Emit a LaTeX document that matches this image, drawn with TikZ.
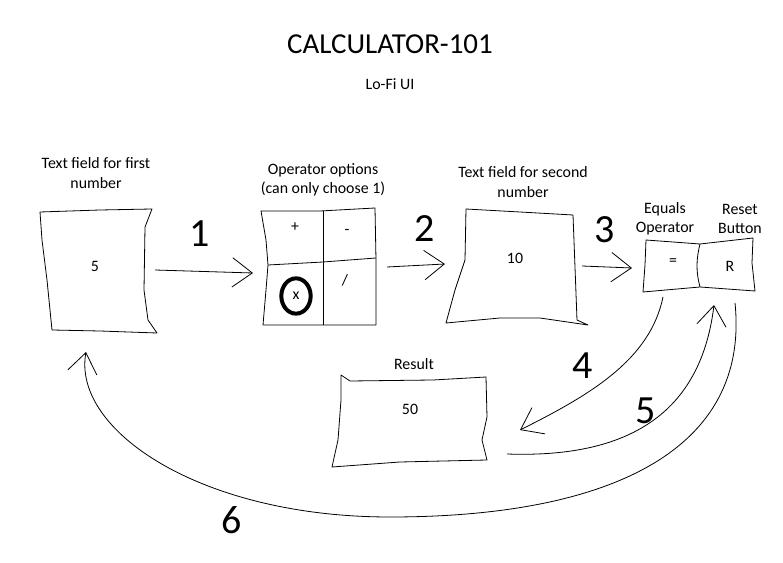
\documentclass[tikz,border=0pt]{standalone}
\usepackage{fontspec}
\setmainfont{Carlito}
\usetikzlibrary{arrows.meta,shapes.geometric}
\tikzset{sketch/.style={draw,line width=0.6pt,line join=round}}
\tikzset{caption/.style={align=center,inner sep=0pt,
                         font=\fontsize{11.9}{14.6}\selectfont}}
\tikzset{entry/.style={inner sep=0pt,font=\fontsize{11.9}{13}\selectfont}}
\tikzset{stepnum/.style={inner sep=0pt,font=\fontsize{30}{30}\selectfont}}
\tikzset{flow/.style={sketch,-{Straight Barb[length=15pt,width=22pt]}}}

\begin{document}
\begin{tikzpicture}[x=0.75pt,y=-0.75pt]
    \useasboundingbox (0,0) rectangle (783,563);
    % Title
    \node[inner sep=0pt,font=\fontsize{21.7}{24}\selectfont] (title) at (390,44) {CALCULATOR-101};
    \node[entry] (subtitle) at (390,84) {Lo-Fi UI};
    % Captions over the boxes
    \node[caption] (capfirst) at (96,173) {Text field for first\\number};
    \node[caption] (capops) at (323,180) {Operator options\\(can only choose 1)};
    \node[caption] (capsecond) at (523,182) {Text field for second\\number};
    \node[caption] (capequals) at (665,219) {Equals\\Operator};
    \node[caption] (capreset) at (740,219) {Reset\\Button};
    \node[caption] (capresult) at (414,364) {Result};
    % Hand drawn boxes
    \draw[sketch] (40,212) -- (100,210) -- (152,209) -- (145,227) -- (144,290)
                  -- (148,320) -- (157,333) -- (100,331) -- (52,330) -- (47,280)
                  -- (42,240) -- cycle;
    \draw[sketch] (261,211) -- (320,211) -- (375,208) -- (376,260) -- (376,325)
                  -- (320,325) -- (263,325) -- (266,290) -- (268,265) -- (266,240) -- cycle;
    \draw[sketch] (323,211) -- (323,325);
    \draw[sketch] (268,265) -- (323,262) -- (376,258);
    \draw[sketch] (466,209) -- (520,212) -- (573,215) -- (575,267) -- (577,320)
                  -- (588,325) -- (540,318) -- (500,318) -- (446,323) -- (455,290)
                  -- (465,260) -- cycle;
    \draw[sketch] (646,240) -- (700,244) -- (753,238) -- (752,263) -- (755,291)
                  -- (700,287) -- (643,292) -- (645,265) -- cycle;
    \draw[sketch] (700,244) .. controls (696,260) and (696,272) .. (700,287);
    \draw[sketch] (341,375) -- (350,381) -- (433,380) -- (486,377) -- (487,417)
                  -- (482,440) -- (487,460) -- (400,462) -- (332,467) -- (338,440)
                  -- (341,400) -- cycle;
    % Values in the boxes
    \node[entry] (first) at (95,266) {5};
    \node[entry] (plus) at (295,227) {+};
    \node[entry] (minus) at (347,232) {-};
    \node[entry] (divide) at (345,280) {/};
    \node[entry,draw,ellipse,line width=3pt,minimum width=22pt,
          minimum height=26.5pt] (times) at (296,296) {x};
    \node[entry] (second) at (515,258) {10};
    \node[entry] (equals) at (673,262) {=};
    \node[entry] (reset) at (730,266) {R};
    \node[entry] (result) at (410,409) {50};
    % Ends of the connectors
    \coordinate (firstout) at (155,270);
    \coordinate (opsin) at (253,273);
    \coordinate (opsout) at (387,267);
    \coordinate (secondin) at (445,264);
    \coordinate (secondout) at (582,266);
    \coordinate (eqin) at (632,268);
    \coordinate (eqout) at (663,297);
    \coordinate (resultin) at (520,430);
    \coordinate (resultout) at (507,454);
    \coordinate (resetin) at (714,305);
    \coordinate (resetout) at (735,303);
    \coordinate (firstin) at (86,352);
    % Connectors
    \draw[flow] (firstout) -- (opsin);
    \draw[flow] (opsout) -- (secondin);
    \draw[flow] (secondout) -- (eqin);
    \draw[flow] (eqout) .. controls (650,360) and (590,395) .. (resultin);
    \draw[flow] (resultout) .. controls (620,458) and (700,420) .. (resetin);
    \draw[flow] (resetout) .. controls (750,450) and (610,517) .. (390,517)
                .. controls (200,517) and (72,430) .. (firstin);
    % Step numbers
    \foreach \n/\x/\y in {1/200/234,2/425/229,3/605/230,4/583/366,5/646/411,6/232/520}{%
        \node[stepnum] (step\n) at (\x,\y) {\n};
    }
\end{tikzpicture}
\end{document}
